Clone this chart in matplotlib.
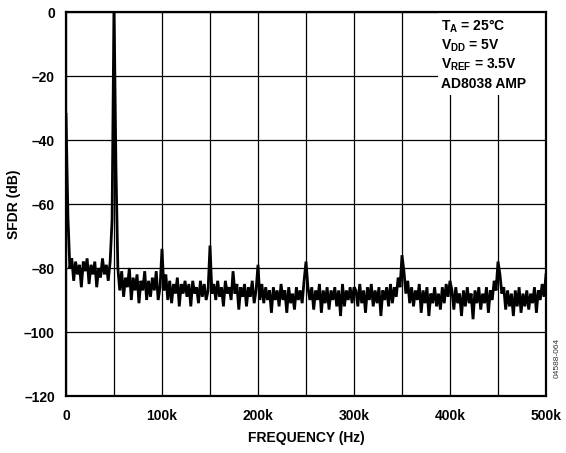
import numpy as np
import matplotlib
matplotlib.use("Agg")
import matplotlib.pyplot as plt
from matplotlib.patches import Rectangle

plt.rcParams['font.family'] = ['Liberation Sans', 'DejaVu Sans']
plt.rcParams['font.weight'] = 'bold'
plt.rcParams['mathtext.fontset'] = 'custom'
plt.rcParams['mathtext.rm'] = 'Liberation Sans:bold'
plt.rcParams['mathtext.it'] = 'Liberation Sans:bold'
plt.rcParams['mathtext.bf'] = 'Liberation Sans:bold'

# Harmonic / tone levels at 0, 50k, 100k, ... 500k (dB)
harmonic_freqs = [0, 50e3, 100e3, 150e3, 200e3, 250e3, 300e3, 350e3, 400e3, 450e3, 500e3]
harmonic_db = [-32, 3, -74, -73, -79, -78, -86, -76, -84, -78, -82]

# Noise floor between successive 50 kHz points (2 kHz bins)
seg0 = [-64, -80, -77, -84, -78, -82, -79, -86, -78, -81, -77, -85, -79, -82, -78, -86, -80, -83, -77, -82, -79, -84, -78, -65]
seg1 = [-48, -80, -87, -81, -89, -83, -86, -80, -90, -83, -87, -82, -91, -84, -87, -81, -90, -84, -89, -83, -87, -81, -90, -86]
seg2 = [-87, -82, -90, -84, -91, -85, -88, -83, -92, -85, -88, -84, -89, -85, -92, -84, -88, -86, -91, -84, -89, -85, -90, -87]
seg3 = [-88, -85, -90, -84, -89, -86, -92, -84, -88, -86, -90, -81, -88, -85, -93, -86, -89, -85, -92, -86, -89, -84, -91, -87]
seg4 = [-90, -85, -91, -86, -90, -87, -94, -86, -90, -87, -92, -85, -90, -87, -94, -86, -91, -88, -93, -86, -90, -87, -91, -84]
seg5 = [-86, -90, -86, -93, -87, -90, -85, -94, -87, -91, -86, -93, -87, -90, -86, -92, -87, -95, -85, -92, -87, -90, -86, -91]
seg6 = [-87, -92, -85, -91, -87, -94, -86, -90, -85, -92, -87, -91, -86, -95, -87, -90, -86, -92, -85, -91, -86, -89, -83, -86]
seg7 = [-81, -88, -84, -91, -86, -92, -87, -90, -85, -94, -87, -91, -86, -95, -88, -91, -86, -92, -88, -93, -86, -91, -85, -89]
seg8 = [-87, -93, -86, -91, -88, -95, -87, -92, -86, -91, -88, -96, -87, -91, -86, -93, -88, -91, -86, -94, -87, -90, -84, -87]
seg9 = [-82, -88, -86, -93, -87, -92, -88, -95, -87, -92, -86, -94, -88, -92, -87, -93, -88, -91, -86, -94, -87, -90, -85, -89]
segments = [seg0, seg1, seg2, seg3, seg4, seg5, seg6, seg7, seg8, seg9]

xticks = [0, 100e3, 200e3, 300e3, 400e3, 500e3]
xticklabels = ['0', '100k', '200k', '300k', '400k', '500k']
yticks = [0, -20, -40, -60, -80, -100, -120]
yticklabels = ['0', '\u201320', '\u201340', '\u201360', '\u201380', '\u2013100', '\u2013120']

# assemble spectrum
freq = []
level = []
for k, seg in enumerate(segments):
    freq.append(harmonic_freqs[k])
    level.append(harmonic_db[k])
    xs = np.linspace(harmonic_freqs[k], harmonic_freqs[k + 1], len(seg) + 2)[1:-1]
    freq.extend(xs)
    level.extend(seg)
freq.append(harmonic_freqs[-1])
level.append(harmonic_db[-1])

fig = plt.figure(figsize=(5.66, 4.53), dpi=100)
ax = fig.add_axes([66 / 566, 1 - 396 / 453, 480 / 566, 384 / 453])

ax.plot(freq, level, color='black', lw=2.0, zorder=3, solid_joinstyle='miter')

ax.set_xlim(0, 500e3)
ax.set_ylim(-120, 0)
ax.set_xticks(np.arange(0, 500001, 50e3), minor=True)
ax.set_xticks(xticks)
ax.set_xticklabels(xticklabels, fontsize=10, fontweight='bold')
ax.set_yticks(yticks)
ax.set_yticklabels(yticklabels, fontsize=10, fontweight='bold')
ax.tick_params(which='both', length=0)
ax.tick_params(axis='x', pad=9)
ax.tick_params(axis='y', pad=8)
ax.grid(True, which='both', color='black', lw=0.9, zorder=1)
ax.set_axisbelow(True)
for s in ax.spines.values():
    s.set_linewidth(1.6)
    s.set_zorder(5)

ax.set_xlabel('FREQUENCY (Hz)', fontsize=10, fontweight='bold', labelpad=6)
ax.set_ylabel('SFDR (dB)', fontsize=10, fontweight='bold', labelpad=2)

# white annotation box
ax.add_patch(Rectangle((387.5e3, -25.9), 112.5e3, 25.9, facecolor='white',
                       edgecolor='none', zorder=2))
lines = [r'T$_{A}$ = 25°C', r'V$_{DD}$ = 5V', r'V$_{REF}$ = 3.5V', 'AD8038 AMP']
ys = [-5.9, -11.9, -17.8, -23.75]
for t, y in zip(lines, ys):
    ax.text(390.6e3, y, t, fontsize=10, fontweight='bold', va='baseline',
            ha='left', zorder=4)

fig.text(557 / 566, 1 - 358 / 453, '04588-064', rotation=90, fontsize=6,
         fontweight='normal', ha='center', va='center', color='#333333')

fig.savefig('out.png', dpi=100)
